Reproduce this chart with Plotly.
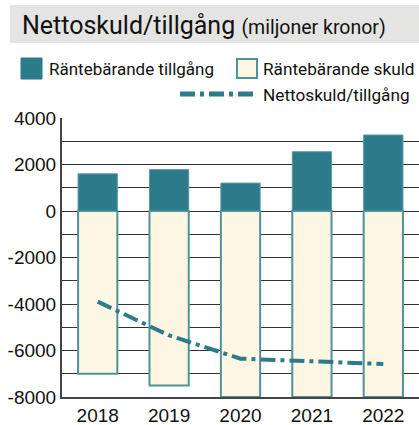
import plotly.graph_objects as go

years = ["2018", "2019", "2020", "2021", "2022"]
tillgang = [1600, 1780, 1200, 2550, 3270]
skuld = [-7000, -7500, -8000, -8000, -8000]
netto = [-3900, -5350, -6350, -6450, -6580]

yticks = [4000, 2000, 0, -2000, -4000, -6000, -8000]

TEAL = "#2d7a8b"
CREAM = "#fdf6e3"
EDGE = "#4f929c"
FONT_N = "Roboto, Arial, sans-serif"
FONT_A = "Liberation Sans, Arial, sans-serif"

W, H = 419, 425
L, R, T, B = 62, 419, 118, 397


def fx(px):
    return (px - L) / (R - L)


def fy(py):
    return (B - py) / (B - T)


fig = go.Figure()
fig.add_trace(go.Bar(x=years, y=skuld, name="Räntebärande skuld", width=0.55,
                     marker=dict(color=CREAM, line=dict(color=EDGE, width=2)),
                     showlegend=False))
fig.add_trace(go.Bar(x=years, y=tillgang, name="Räntebärande tillgång", width=0.55,
                     marker=dict(color=TEAL, line=dict(color="#5a9aa6", width=1)),
                     showlegend=False))
fig.add_trace(go.Scatter(x=years, y=netto, name="Nettoskuld/tillgång", mode="lines",
                         line=dict(color=TEAL, width=4, dash="15px,5px,4px,5px"),
                         showlegend=False))

shapes = [
    dict(type="rect", xref="paper", yref="paper", x0=fx(10), x1=fx(419), y0=fy(43), y1=fy(5),
         fillcolor="#e4e5e2", line=dict(width=0), layer="below"),
    dict(type="rect", xref="paper", yref="paper", x0=fx(21), x1=fx(42), y0=fy(79), y1=fy(58),
         fillcolor=TEAL, line=dict(color=TEAL, width=1)),
    dict(type="rect", xref="paper", yref="paper", x0=fx(237), x1=fx(257), y0=fy(78), y1=fy(59),
         fillcolor=CREAM, line=dict(color=EDGE, width=2)),
    dict(type="line", xref="paper", yref="paper", x0=fx(180), x1=fx(254), y0=fy(94), y1=fy(94),
         line=dict(color=TEAL, width=5, dash="15px,5px,4px,5px")),
]

annotations = [
    dict(xref="paper", yref="paper", x=fx(20), y=fy(25), xanchor="left", yanchor="middle",
         showarrow=False,
         text="Nettoskuld/tillgång <span style='font-size:19.5px'>(miljoner kronor)</span>",
         font=dict(family=FONT_N, size=25, color="#111")),
    dict(xref="paper", yref="paper", x=fx(47), y=fy(69), xanchor="left", yanchor="middle",
         showarrow=False, text="Räntebärande tillgång",
         font=dict(family=FONT_N, size=17, color="#111")),
    dict(xref="paper", yref="paper", x=fx(261), y=fy(69), xanchor="left", yanchor="middle",
         showarrow=False, text="Räntebärande skuld",
         font=dict(family=FONT_N, size=17.2, color="#111")),
    dict(xref="paper", yref="paper", x=fx(261), y=fy(95), xanchor="left", yanchor="middle",
         showarrow=False, text="Nettoskuld/tillgång",
         font=dict(family=FONT_N, size=17.2, color="#111")),
]

fig.update_layout(
    width=W, height=H,
    margin=dict(l=L, r=W - R, t=T, b=H - B),
    paper_bgcolor="white", plot_bgcolor="white",
    barmode="relative",
    showlegend=False,
    shapes=shapes,
    annotations=annotations,
    xaxis=dict(showgrid=False, showline=True, linecolor="#444", linewidth=2,
               ticks="", tickfont=dict(family=FONT_A, size=19, color="#111"),
               fixedrange=True),
    yaxis=dict(range=[-8000, 4000], tickvals=yticks, ticktext=[str(v) for v in yticks],
               showgrid=True, gridcolor="#333333", gridwidth=1.4,
               minor=dict(dtick=1000, tick0=0, showgrid=True, gridcolor="#333333", gridwidth=1.4),
               zeroline=False, showline=True, linecolor="#444", linewidth=2,
               ticks="", tickfont=dict(family=FONT_A, size=19, color="#111"),
               fixedrange=True),
)

fig.write_html("out.html", config={"displayModeBar": False},
               post_script="document.body.style.margin='0';document.body.style.overflow='hidden';")
